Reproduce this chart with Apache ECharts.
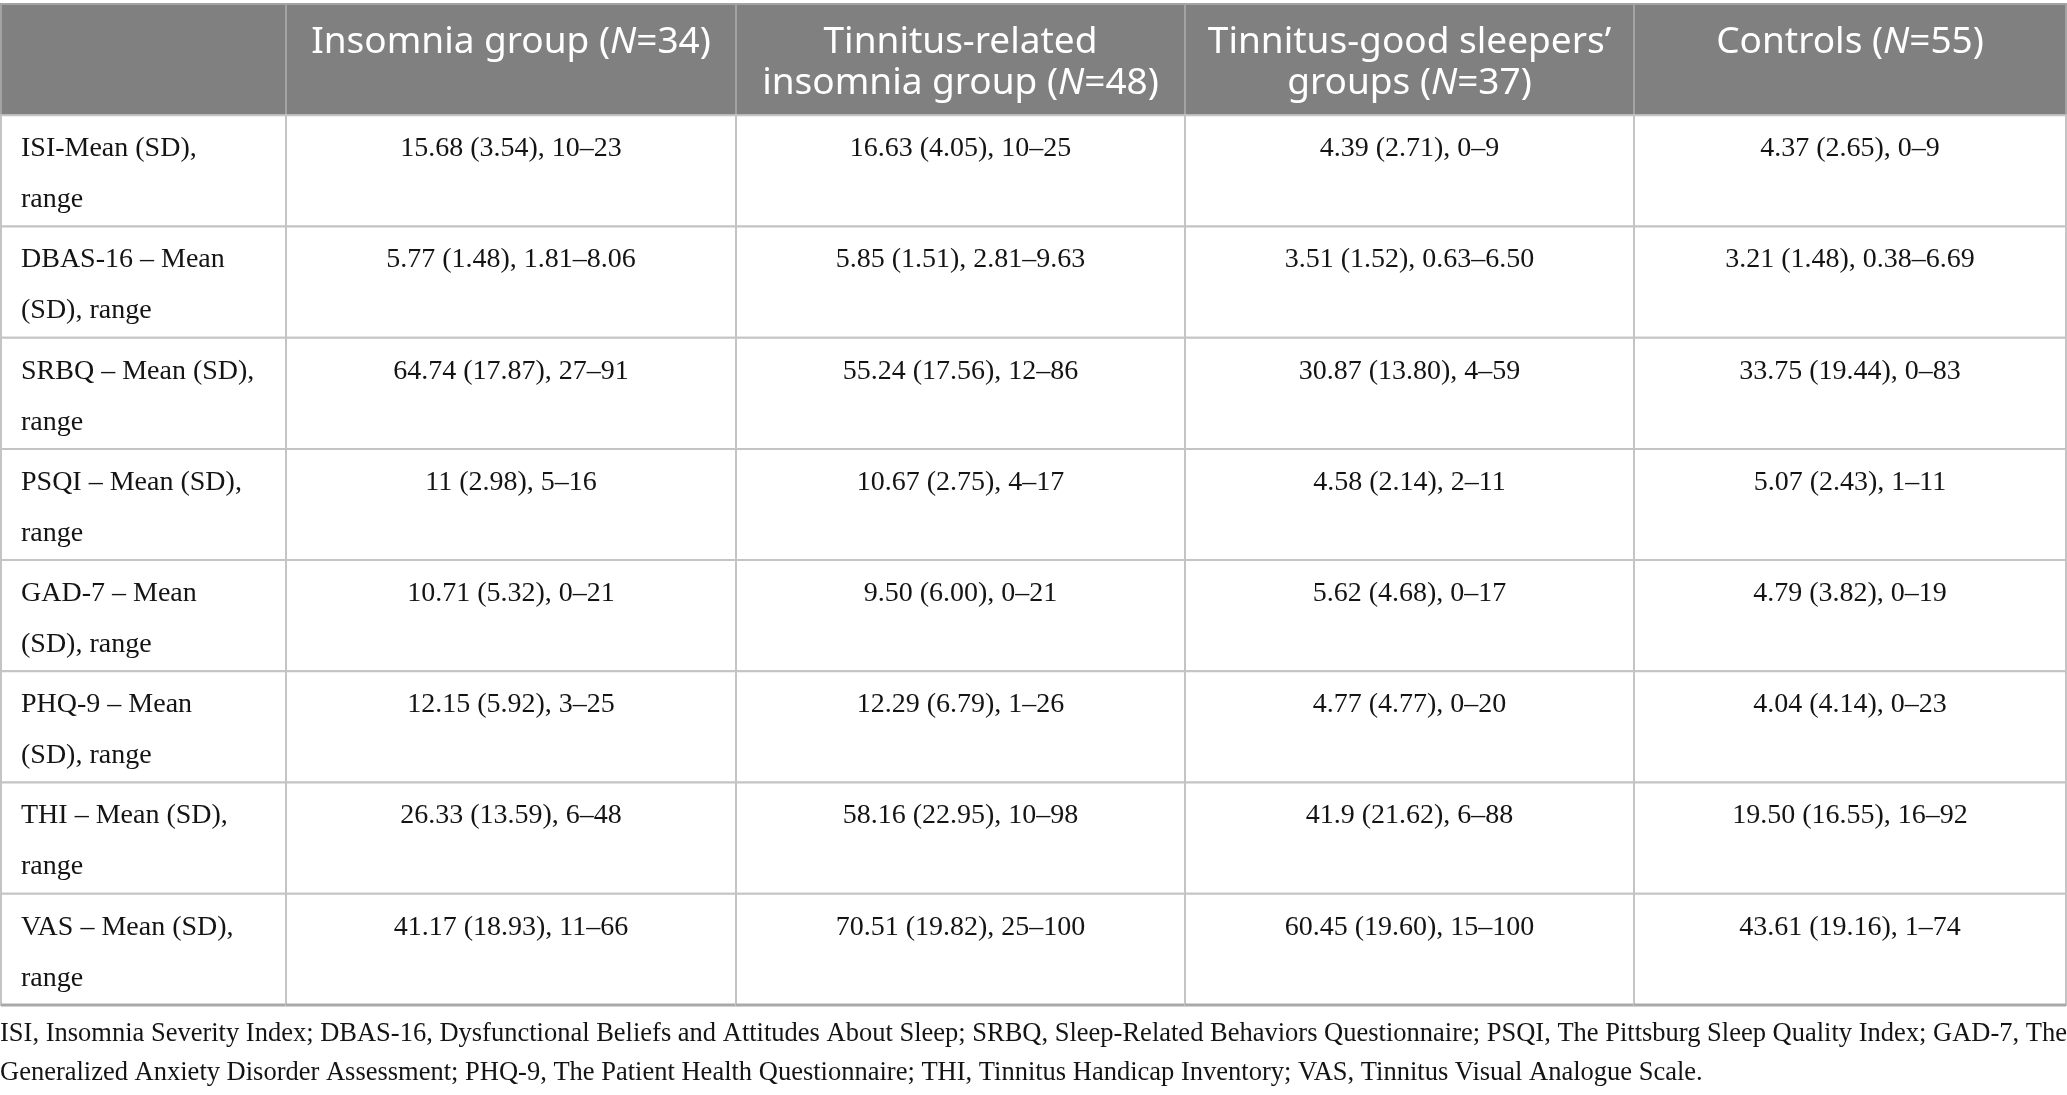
<!DOCTYPE html>
<html>
<head>
<meta charset="UTF-8">
<title>Group characteristics</title>
<style>
  html, body { margin: 0; padding: 0; background: #fff; }
  #main { width: 2067px; height: 1095px; }
</style>
</head>
<body>
<div id="main"></div>
<script src="https://cdn.jsdelivr.net/npm/echarts@6/dist/echarts.min.js"></script>
<script>
// column headers ({i|..} = italic)
var groupLabels = [
  '',
  'Insomnia group ({i|N}=34)',
  'Tinnitus-related\ninsomnia group ({i|N}=48)',
  'Tinnitus-good sleepers\u2019\ngroups ({i|N}=37)',
  'Controls ({i|N}=55)'
];

// row labels (first column)
var measureLabels = [
  'ISI-Mean (SD),\nrange',
  'DBAS-16 \u2013 Mean\n(SD), range',
  'SRBQ \u2013 Mean (SD),\nrange',
  'PSQI \u2013 Mean (SD),\nrange',
  'GAD-7 \u2013 Mean\n(SD), range',
  'PHQ-9 \u2013 Mean\n(SD), range',
  'THI \u2013 Mean (SD),\nrange',
  'VAS \u2013 Mean (SD),\nrange'
];

// Mean (SD), range per group
var insomniaVals = [
  '15.68 (3.54), 10\u201323', '5.77 (1.48), 1.81\u20138.06', '64.74 (17.87), 27\u201391',
  '11 (2.98), 5\u201316', '10.71 (5.32), 0\u201321', '12.15 (5.92), 3\u201325',
  '26.33 (13.59), 6\u201348', '41.17 (18.93), 11\u201366'
];
var tinnitusInsomniaVals = [
  '16.63 (4.05), 10\u201325', '5.85 (1.51), 2.81\u20139.63', '55.24 (17.56), 12\u201386',
  '10.67 (2.75), 4\u201317', '9.50 (6.00), 0\u201321', '12.29 (6.79), 1\u201326',
  '58.16 (22.95), 10\u201398', '70.51 (19.82), 25\u2013100'
];
var goodSleeperVals = [
  '4.39 (2.71), 0\u20139', '3.51 (1.52), 0.63\u20136.50', '30.87 (13.80), 4\u201359',
  '4.58 (2.14), 2\u201311', '5.62 (4.68), 0\u201317', '4.77 (4.77), 0\u201320',
  '41.9 (21.62), 6\u201388', '60.45 (19.60), 15\u2013100'
];
var controlVals = [
  '4.37 (2.65), 0\u20139', '3.21 (1.48), 0.38\u20136.69', '33.75 (19.44), 0\u201383',
  '5.07 (2.43), 1\u201311', '4.79 (3.82), 0\u201319', '4.04 (4.14), 0\u201323',
  '19.50 (16.55), 16\u201392', '43.61 (19.16), 1\u201374'
];

var footnote = 'ISI, Insomnia Severity Index; DBAS-16, Dysfunctional Beliefs and Attitudes About Sleep; SRBQ, Sleep-Related Behaviors Questionnaire; PSQI, The Pittsburg Sleep Quality Index; GAD-7, The\n' +
  'Generalized Anxiety Disorder Assessment; PHQ-9, The Patient Health Questionnaire; THI, Tinnitus Handicap Inventory; VAS, Tinnitus Visual Analogue Scale.';

// layout: relative column widths
var colWidths = [285, 450, 449, 449, 432];
var colEdges = [0];
colWidths.forEach(function (w) { colEdges.push(colEdges[colEdges.length - 1] + w); });

var columns = [measureLabels, insomniaVals, tinnitusInsomniaVals, goodSleeperVals, controlVals];
var nRows = measureLabels.length;

// build cell list: row 0 is header
var cells = [];
groupLabels.forEach(function (t, c) { cells.push({ col: c, row: 0, text: t }); });
for (var r = 0; r < nRows; r++) {
  for (var c = 0; c < columns.length; c++) {
    cells.push({ col: c, row: r + 1, text: columns[c][r] });
  }
}

var serif = '"Liberation Serif", "Times New Roman", serif';
var sans = '"Noto Sans", "Open Sans", sans-serif';

function renderCell(params, api) {
  var cell = cells[params.dataIndex];
  var p0 = api.coord([colEdges[cell.col], cell.row]);
  var p1 = api.coord([colEdges[cell.col + 1], cell.row + 1]);
  var x = p0[0], y = p0[1], w = p1[0] - p0[0], h = p1[1] - p0[1];
  var header = cell.row === 0;
  var children = [{
    type: 'rect',
    shape: { x: x, y: y, width: w, height: h },
    style: {
      fill: header ? '#7f807f' : '#ffffff',
      stroke: header ? '#a3a3a3' : '#c4c4c4',
      lineWidth: 2
    }
  }];
  if (header) {
    children.push({
      type: 'text',
      style: {
        text: cell.text, x: x + w / 2, y: y + 18,
        align: 'center', verticalAlign: 'top',
        fontFamily: sans, fontSize: 37, lineHeight: 41, fill: '#ffffff',
        rich: { i: { fontStyle: 'italic', fontFamily: sans, fontSize: 37, lineHeight: 41, fill: '#ffffff' } }
      }
    });
  } else {
    var first = cell.col === 0;
    children.push({
      type: 'text',
      style: {
        text: cell.text, x: first ? x + 20 : x + w / 2, y: y + 8,
        align: first ? 'left' : 'center', verticalAlign: 'top',
        fontFamily: serif, fontSize: 28, lineHeight: 51, fill: '#141414'
      }
    });
  }
  if (cell.row === nRows) {
    children.push({
      type: 'line',
      shape: { x1: x, y1: y + h, x2: x + w, y2: y + h },
      style: { stroke: '#a9a9a9', lineWidth: 3 }
    });
  }
  return { type: 'group', children: children };
}

var myChart = echarts.init(document.getElementById('main'));

var option = {
  animation: false,
  title: {
    text: footnote,
    left: 0,
    top: 1015,
    padding: 0,
    textStyle: {
      fontFamily: serif, fontSize: 26.5, fontWeight: 'normal',
      lineHeight: 39, color: '#141414'
    }
  },
  grid: { left: 1, right: 1, top: 4, bottom: 90 },
  xAxis: { type: 'value', min: 0, max: colEdges[colEdges.length - 1], show: false },
  yAxis: { type: 'value', min: 0, max: nRows + 1, inverse: true, show: false },
  series: [{
    type: 'custom',
    coordinateSystem: 'cartesian2d',
    renderItem: renderCell,
    encode: { x: 0, y: 1 },
    data: cells.map(function (d) { return [d.col, d.row]; })
  }]
};

myChart.setOption(option);
</script>
</body>
</html>
